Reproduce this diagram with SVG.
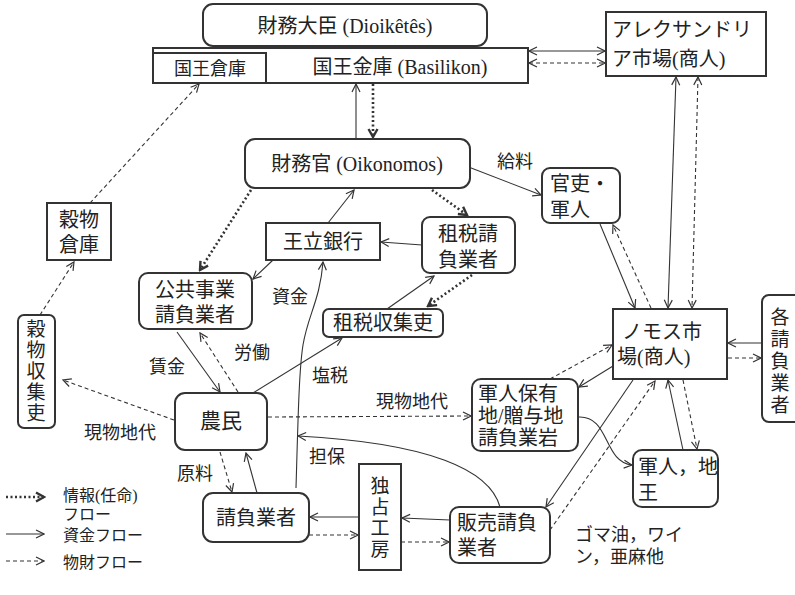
<svg xmlns="http://www.w3.org/2000/svg" width="795" height="595" viewBox="0 0 795 595">
<style>
.b{fill:#fff;stroke:#333;stroke-width:2}
.t{font-family:"Liberation Serif","Noto Sans CJK JP",serif;fill:#222;font-size:20px;dominant-baseline:central}
.m{text-anchor:middle}
.l{font-size:18px}
.g{font-size:16px}
.v{font-size:19px}
.s{fill:none;stroke:#333;stroke-width:1.1}
.d{fill:none;stroke:#333;stroke-width:1.1;stroke-dasharray:4 3}
.i{fill:none;stroke:#333;stroke-width:2.6;stroke-dasharray:2 2.5}
</style>
<defs>
<marker id="a" viewBox="0 0 10 10" refX="9" refY="5" markerWidth="10" markerHeight="10" markerUnits="userSpaceOnUse" orient="auto-start-reverse"><path d="M1,1 L9,5 L1,9" fill="none" stroke="#333" stroke-width="1.2"/></marker>
<marker id="c" viewBox="0 0 12 12" refX="10" refY="6" markerWidth="12" markerHeight="12" markerUnits="userSpaceOnUse" orient="auto-start-reverse"><path d="M2,1.5 L10,6 L2,10.5" fill="none" stroke="#333" stroke-width="2.4"/></marker>
</defs>

<g id="connectors">
<path class="s" d="M356,139 L356,84" marker-end="url(#a)"/>
<path class="i" d="M373,84 L373,137" marker-end="url(#c)"/>
<path class="s" d="M529,51 L605,51" marker-start="url(#a)" marker-end="url(#a)"/>
<path class="d" d="M529,63 L605,63" marker-start="url(#a)" marker-end="url(#a)"/>
<path class="s" d="M676,77 L668,308" marker-start="url(#a)" marker-end="url(#a)"/>
<path class="d" d="M698,77 L692,308" marker-start="url(#a)" marker-end="url(#a)"/>
<path class="s" d="M466,166 L541,195" marker-end="url(#a)"/>
<path class="i" d="M432,190 L467,215" marker-end="url(#c)"/>
<path class="i" d="M251,190 L200,270" marker-end="url(#c)"/>
<path class="s" d="M328,223 L354,190" marker-end="url(#a)"/>
<path class="s" d="M422,245 L381,242" marker-end="url(#a)"/>
<path class="s" d="M273,260 L253,279" marker-end="url(#a)"/>
<path class="s" d="M387,309 L434,276" marker-end="url(#a)"/>
<path class="i" d="M472,275 L428,306" marker-end="url(#c)"/>
<path class="d" d="M90,203 L199,84" marker-end="url(#a)"/>
<path class="d" d="M40,315 L74,262" marker-end="url(#a)"/>
<path class="d" d="M174,420 L63,380" marker-end="url(#a)"/>
<path class="s" d="M177,332 L220,392" marker-end="url(#a)"/>
<path class="d" d="M238,392 L200,333" marker-end="url(#a)"/>
<path class="s" d="M253,393 L342,338" marker-end="url(#a)"/>
<path class="s" d="M296,488 C298,420 299,370 303,345 C308,315 320,300 323,262" marker-end="url(#a)"/>
<path class="s" d="M500,507 C490,470 430,443 298,436" marker-end="url(#a)"/>
<path class="d" d="M220,452 L232,492" marker-end="url(#a)"/>
<path class="s" d="M257,493 L246,453" marker-end="url(#a)"/>
<path class="s" d="M359,517 L310,517" marker-end="url(#a)"/>
<path class="d" d="M309,535 L358,535" marker-end="url(#a)"/>
<path class="s" d="M450,520 L402,518" marker-end="url(#a)"/>
<path class="d" d="M401,542 L449,542" marker-end="url(#a)"/>
<path class="s" d="M600,224 L635,308" marker-end="url(#a)"/>
<path class="d" d="M651,308 L613,225" marker-end="url(#a)"/>
<path class="s" d="M762,343 L728,343" marker-end="url(#a)"/>
<path class="d" d="M728,358 L761,358" marker-end="url(#a)"/>
<path class="d" d="M268,417 L471,416" marker-end="url(#a)"/>
<path class="d" d="M550,379 L612,345" marker-end="url(#a)"/>
<path class="s" d="M613,366 L579,387" marker-end="url(#a)"/>
<path class="s" d="M578,417 C610,415 603,462 632,465" marker-end="url(#a)"/>
<path class="s" d="M683,450 L668,380" marker-end="url(#a)"/>
<path class="d" d="M683,380 L697,449" marker-end="url(#a)"/>
<path class="s" d="M633,380 L546,507" marker-end="url(#a)"/>
<path class="d" d="M550,530 L655,381" marker-end="url(#a)"/>
</g>

<g id="labels">
<text class="t l m" x="515" y="162">給料</text>
<text class="t l m" x="290" y="297">資金</text>
<text class="t l m" x="167" y="367">賃金</text>
<text class="t l m" x="252" y="353">労働</text>
<text class="t l m" x="330" y="376">塩税</text>
<text class="t l m" x="120" y="433">現物地代</text>
<text class="t l m" x="412" y="402">現物地代</text>
<text class="t l m" x="195" y="474">原料</text>
<text class="t l m" x="327" y="457">担保</text>
<text class="t l" x="575" y="535">ゴマ油，ワイ</text>
<text class="t l" x="575" y="557">ン，亜麻他</text>
</g>

<g id="dioiketes"><rect class="b" x="203" y="4" width="284" height="42" rx="10"/><text class="t m" x="345" y="26">財務大臣 (Dioikêtês)</text></g>
<g id="basilikon"><rect class="b" x="153" y="48" width="375" height="35"/><text class="t m" x="400" y="67">国王金庫 (Basilikon)</text></g>
<g id="oko-soko"><rect class="b" x="153" y="53" width="113" height="30"/><text class="t m" x="210" y="69" style="font-size:18px">国王倉庫</text></g>
<g id="alexandria"><rect class="b" x="606" y="12" width="160" height="64"/><text class="t" x="612" y="30">アレクサンドリ</text><text class="t" x="612" y="59">ア市場(商人)</text></g>
<g id="oikonomos"><rect class="b" x="245" y="139" width="225" height="49" rx="10"/><text class="t m" x="357" y="164">財務官 (Oikonomos)</text></g>
<g id="kanri"><rect class="b" x="542" y="168" width="78" height="55" rx="8"/><text class="t" x="550" y="184">官吏・</text><text class="t" x="550" y="210">軍人</text></g>
<g id="sozei-ukeoi"><rect class="b" x="422" y="217" width="93" height="56" rx="8"/><text class="t m" x="468" y="234">租税請</text><text class="t m" x="468" y="260">負業者</text></g>
<g id="oritsu-ginko"><rect class="b" x="266" y="223" width="114" height="37"/><text class="t m" x="323" y="242">王立銀行</text></g>
<g id="kokyo-jigyo"><rect class="b" x="139" y="273" width="113" height="56" rx="9"/><text class="t m" x="195" y="290">公共事業</text><text class="t m" x="195" y="315">請負業者</text></g>
<g id="sozei-shushuri"><rect class="b" x="323" y="309" width="120" height="28" rx="6"/><text class="t m" x="383" y="323">租税収集吏</text></g>
<g id="kokumotsu-soko"><rect class="b" x="47" y="203" width="64" height="57"/><text class="t m" x="79" y="220">穀物</text><text class="t m" x="79" y="245">倉庫</text></g>
<g id="kokumotsu-shushuri"><rect class="b" x="18" y="315" width="37" height="113" rx="6"/><text class="t v m" x="36" y="329">穀</text><text class="t v m" x="36" y="350">物</text><text class="t v m" x="36" y="371">収</text><text class="t v m" x="36" y="392">集</text><text class="t v m" x="36" y="413">吏</text></g>
<g id="nomin"><rect class="b" x="175" y="393" width="92" height="57" rx="10"/><text class="t m" x="221" y="421" style="font-size:21px">農民</text></g>
<g id="ukeoi"><rect class="b" x="203" y="493" width="106" height="49" rx="10"/><text class="t m" x="256" y="518">請負業者</text></g>
<g id="dokusen-kobo"><rect class="b" x="359" y="464" width="42" height="106"/><text class="t v m" x="380" y="486">独</text><text class="t v m" x="380" y="507">占</text><text class="t v m" x="380" y="528">工</text><text class="t v m" x="380" y="549">房</text></g>
<g id="hanbai"><rect class="b" x="450" y="507" width="100" height="56" rx="9"/><text class="t" x="457" y="523">販売請負</text><text class="t" x="457" y="548">業者</text></g>
<g id="nomos"><rect class="b" x="613" y="309" width="114" height="70"/><text class="t" x="622" y="332">ノモス市</text><text class="t" x="617" y="357">場(商人)</text></g>
<g id="kaku-ukeoi"><rect class="b" x="762" y="295" width="40" height="127" rx="7"/><text class="t v m" x="780" y="317">各</text><text class="t v m" x="780" y="339">請</text><text class="t v m" x="780" y="361">負</text><text class="t v m" x="780" y="383">業</text><text class="t v m" x="780" y="405">者</text></g>
<g id="gunjin-hoyu"><rect class="b" x="472" y="379" width="106" height="72" rx="9"/><text class="t" x="478" y="394">軍人保有</text><text class="t" x="478" y="416">地/贈与地</text><text class="t" x="478" y="438">請負業岩</text></g>
<g id="gunjin-chio"><rect class="b" x="633" y="450" width="85" height="57" rx="9"/><text class="t" x="638" y="467">軍人，地</text><text class="t" x="638" y="493">王</text></g>

<g id="legend">
<path class="i" d="M6,497 L44,497" marker-end="url(#c)"/>
<path class="s" d="M6,534 L44,534" marker-end="url(#a)"/>
<path class="d" d="M6,561 L44,561" marker-end="url(#a)"/>
<text class="t g" x="63" y="495">情報(任命)</text>
<text class="t g" x="63" y="514">フロー</text>
<text class="t g" x="63" y="535">資金フロー</text>
<text class="t g" x="63" y="562">物財フロー</text>
</g>
</svg>
